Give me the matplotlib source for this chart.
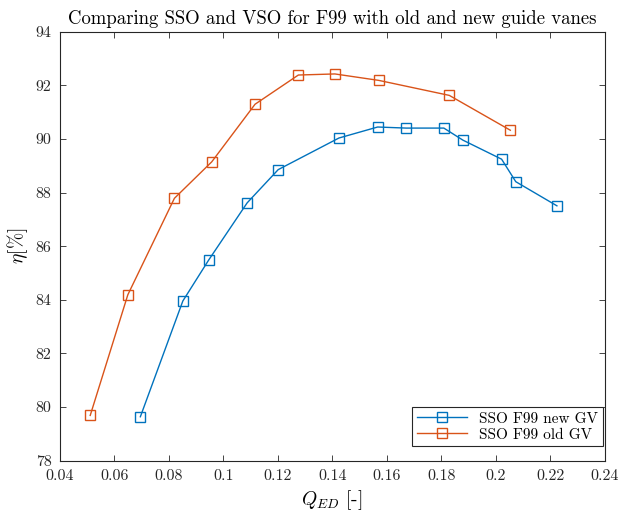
import matplotlib
matplotlib.use('Agg')
import matplotlib.pyplot as plt

plt.rcParams['font.family'] = 'cmr10'
plt.rcParams['mathtext.fontset'] = 'cm'
plt.rcParams['axes.formatter.use_mathtext'] = True

# SSO F99 new guide vanes
q_new = [0.0696, 0.0852, 0.0947, 0.1088, 0.1202, 0.1425, 0.1567, 0.1672,
         0.1810, 0.1880, 0.2022, 0.2074, 0.2225]
eta_new = [79.64, 83.96, 85.49, 87.62, 88.86, 90.04, 90.45, 90.41,
           90.41, 89.96, 89.25, 88.41, 87.51]

# SSO F99 old guide vanes
q_old = [0.0512, 0.0650, 0.0821, 0.0958, 0.1117, 0.1276, 0.1410, 0.1571,
         0.1830, 0.2054]
eta_old = [79.69, 84.19, 87.79, 89.15, 91.30, 92.39, 92.43, 92.19,
           91.63, 90.33]

x_ticks = [0.04, 0.06, 0.08, 0.1, 0.12, 0.14, 0.16, 0.18, 0.2, 0.22, 0.24]
x_labels = ['0.04', '0.06', '0.08', '0.1', '0.12', '0.14', '0.16', '0.18',
            '0.2', '0.22', '0.24']
y_ticks = [78, 80, 82, 84, 86, 88, 90, 92, 94]

BLUE = '#0072BD'
ORANGE = '#D95319'

fig = plt.figure(figsize=(6.22, 5.14), dpi=100)
ax = fig.add_axes([0.096, 0.1037, 0.876, 0.8343])

ax.plot(q_new, eta_new, '-s', color=BLUE, lw=1.0, ms=6.5, mfc='none',
        mew=1.0, label='SSO F99 new GV')
ax.plot(q_old, eta_old, '-s', color=ORANGE, lw=1.0, ms=6.5, mfc='none',
        mew=1.0, label='SSO F99 old GV')

ax.set_xlim(0.04, 0.24)
ax.set_ylim(78, 94)
ax.set_xticks(x_ticks)
ax.set_xticklabels(x_labels)
ax.set_yticks(y_ticks)
ax.set_yticklabels([str(v) for v in y_ticks])
ax.tick_params(direction='in', top=True, right=True, labelsize=11.5,
               length=4, width=0.6, colors='#262626')
ax.tick_params(axis='x', pad=6)
ax.tick_params(axis='y', pad=6)
for spine in ax.spines.values():
    spine.set_linewidth(0.8)
    spine.set_color('#262626')

ax.set_title('Comparing SSO and VSO for F99 with old and new guide vanes',
             fontsize=13.5, pad=6)
ax.set_xlabel(r'$Q_{ED}$ [-]', fontsize=14, labelpad=4)
ax.set_ylabel(r'$\eta[\%]$', fontsize=14)

leg = ax.legend(loc='lower right', bbox_to_anchor=(0.997, 0.034),
                fontsize=11, fancybox=False, framealpha=1,
                edgecolor='#262626', borderaxespad=0,
                handlelength=3.3, borderpad=0.3, labelspacing=0.15)
leg.get_frame().set_linewidth(0.8)

fig.savefig('out.png', dpi=100)
